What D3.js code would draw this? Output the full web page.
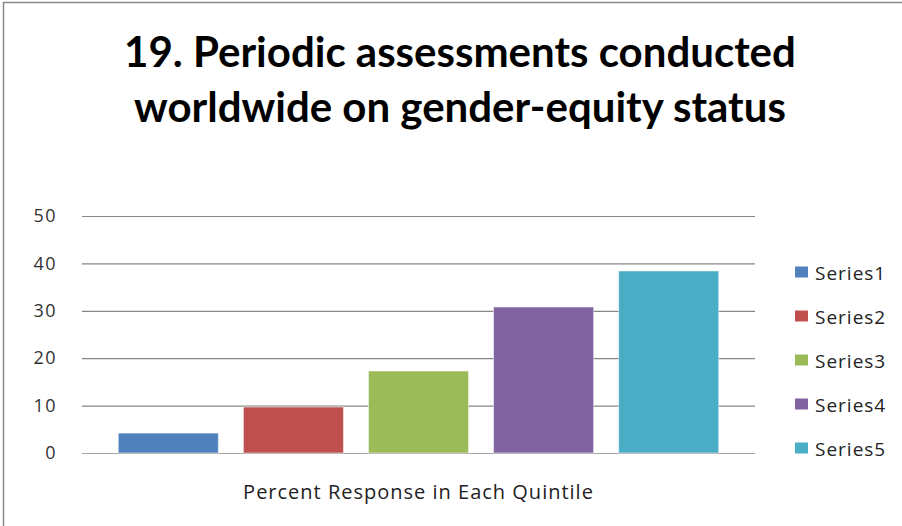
<!DOCTYPE html>
<html>
<head>
<meta charset="utf-8">
<script src="https://cdn.jsdelivr.net/npm/d3@7.9.0/dist/d3.min.js"></script>
<style>
  body { margin: 0; background: #fff; }
  svg { display: block; }
</style>
</head>
<body>
<div id="chart"></div>
<script>
// Data
const series = ['Series1', 'Series2', 'Series3', 'Series4', 'Series5'];
const values = [4.2, 9.7, 17.3, 30.8, 38.4];
const colorList = ['#4F81BD', '#C0504D', '#9BBB59', '#8064A2', '#4BACC6'];
const yTicks = [0, 10, 20, 30, 40, 50];
const titleLines = ['19. Periodic assessments conducted', 'worldwide on gender-equity status'];
const xLabel = 'Percent Response in Each Quintile';

const width = 902;
const height = 526;
const plot = { left: 82, right: 755, top: 216, bottom: 453 };

const svg = d3.select('#chart')
  .append('svg')
  .attr('width', width)
  .attr('height', height);

// chart border
svg.append('rect')
  .attr('x', 3.5).attr('y', 2.5)
  .attr('width', width + 10).attr('height', height + 10)
  .attr('fill', 'none')
  .attr('stroke', '#888')
  .attr('stroke-width', 1.5);

const x = d3.scaleBand()
  .domain(series)
  .range([plot.left, plot.right])
  .paddingInner(0.2)
  .paddingOuter(0.29);

const y = d3.scaleLinear()
  .domain([0, 50])
  .range([plot.bottom, plot.top]);

const color = d3.scaleOrdinal(series, colorList);

// Title
svg.append('g')
  .selectAll('text')
  .data(titleLines)
  .join('text')
  .attr('x', 460)
  .attr('y', (d, i) => 67 + i * 55)
  .attr('text-anchor', 'middle')
  .style('font-family', 'Lato, "Open Sans", sans-serif')
  .style('font-weight', 'bold')
  .style('font-size', '42px')
  .attr('fill', '#000')
  .text(d => d);

// gridlines + y axis
const yAxis = d3.axisLeft(y)
  .tickValues(yTicks)
  .tickSize(-(plot.right - plot.left))
  .tickPadding(25);

const gy = svg.append('g')
  .attr('transform', `translate(${plot.left},0)`)
  .call(yAxis);

gy.select('.domain').remove();
gy.selectAll('.tick line')
  .attr('stroke', d => d === 0 ? '#a6a6a6' : '#868686')
  .attr('stroke-width', 1.2);
gy.selectAll('.tick text')
  .style('font-family', '"Open Sans", sans-serif')
  .style('font-size', '18px')
  .style('letter-spacing', '1.5px')
  .attr('fill', '#333');

// Bars
svg.append('g')
  .selectAll('rect')
  .data(series.map((s, i) => ({ s, v: values[i] })))
  .join('rect')
  .attr('x', d => x(d.s))
  .attr('y', d => y(d.v))
  .attr('width', x.bandwidth())
  .attr('height', d => y(0) - y(d.v))
  .attr('fill', d => color(d.s))
  .attr('stroke', 'rgba(255,255,255,0.5)')
  .attr('stroke-width', 1);

// x axis label
svg.append('text')
  .attr('x', (plot.left + plot.right) / 2)
  .attr('y', 499)
  .attr('text-anchor', 'middle')
  .style('font-family', '"Open Sans", sans-serif')
  .style('font-size', '20px')
  .style('letter-spacing', '1px')
  .attr('fill', '#222')
  .text(xLabel);

// Legend
const legend = svg.append('g')
  .selectAll('g')
  .data(series)
  .join('g')
  .attr('transform', (d, i) => `translate(795, ${272 + i * 44})`);

legend.append('rect')
  .attr('x', 0).attr('y', -5.5)
  .attr('width', 13).attr('height', 11)
  .attr('fill', d => color(d));

legend.append('text')
  .attr('x', 20)
  .attr('y', 1)
  .attr('dy', '0.35em')
  .style('font-family', '"Open Sans", sans-serif')
  .style('font-size', '19px')
  .style('letter-spacing', '1px')
  .attr('fill', '#222')
  .text(d => d);
</script>
</body>
</html>
